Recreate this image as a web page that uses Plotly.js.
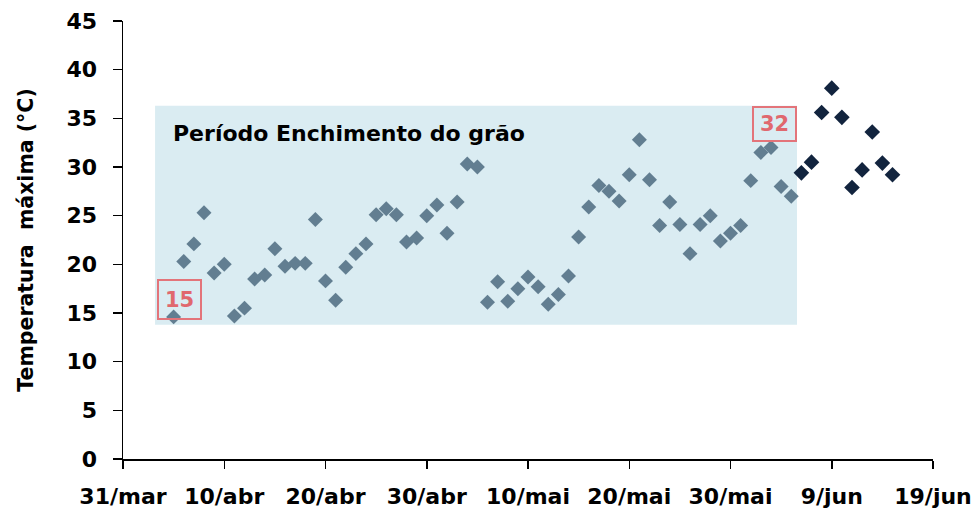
<!DOCTYPE html>
<html>
<head>
<meta charset="utf-8">
<script src="https://cdn.plot.ly/plotly-3.0.1.min.js"></script>
<style>html,body{margin:0;padding:0;background:#fff;}#chart{width:978px;height:513px;}</style>
</head>
<body>
<div id="chart"></div>
<script>
// Grain filling period (light markers)
const fillDates = [
  "2019-04-05","2019-04-06","2019-04-07","2019-04-08","2019-04-09","2019-04-10","2019-04-11","2019-04-12","2019-04-13","2019-04-14",
  "2019-04-15","2019-04-16","2019-04-17","2019-04-18","2019-04-19","2019-04-20","2019-04-21","2019-04-22","2019-04-23","2019-04-24",
  "2019-04-25","2019-04-26","2019-04-27","2019-04-28","2019-04-29","2019-04-30","2019-05-01","2019-05-02","2019-05-03","2019-05-04",
  "2019-05-05","2019-05-06","2019-05-07","2019-05-08","2019-05-09","2019-05-10","2019-05-11","2019-05-12","2019-05-13","2019-05-14",
  "2019-05-15","2019-05-16","2019-05-17","2019-05-18","2019-05-19","2019-05-20","2019-05-21","2019-05-22","2019-05-23","2019-05-24",
  "2019-05-25","2019-05-26","2019-05-27","2019-05-28","2019-05-29","2019-05-30","2019-05-31","2019-06-01","2019-06-02","2019-06-03",
  "2019-06-04","2019-06-05"
];
const fillTemps = [
  14.6,20.3,22.1,25.3,19.1,20.0,14.7,15.5,18.5,18.9,
  21.6,19.8,20.1,20.1,24.6,18.3,16.3,19.7,21.1,22.1,
  25.1,25.7,25.1,22.3,22.7,25.0,26.1,23.2,26.4,30.3,
  30.0,16.1,18.2,16.2,17.5,18.7,17.7,15.9,16.9,18.8,
  22.8,25.9,28.1,27.5,26.5,29.2,32.8,28.7,24.0,26.4,
  24.1,21.1,24.1,25.0,22.4,23.2,24.0,28.6,31.5,32.0,
  28.0,27.0
];
// After the period (dark markers)
const laterDates = ["2019-06-06","2019-06-07","2019-06-08","2019-06-09","2019-06-10","2019-06-11","2019-06-12","2019-06-13","2019-06-14","2019-06-15"];
const laterTemps = [29.4,30.5,35.6,38.1,35.1,27.9,29.7,33.6,30.4,29.2];

// Axis ticks
const xTickVals = ["2019-03-31","2019-04-10","2019-04-20","2019-04-30","2019-05-10","2019-05-20","2019-05-30","2019-06-09","2019-06-19"];
const xTickText = ["31/mar","10/abr","20/abr","30/abr","10/mai","20/mai","30/mai","9/jun","19/jun"];

// Period box and highlighted values
const periodStart = "2019-04-03 04:00";
const periodEnd = "2019-06-05 13:40";
const periodLow = 13.8;
const periodHigh = 36.3;
const periodLabel = "Período Enchimento do grão";
const minLabel = {x: "2019-04-05 12:45", y: 16.4, text: "15"};
const maxLabel = {x: "2019-06-03 08:30", y: 34.4, text: "32"};

const font = "DejaVu Sans, sans-serif";
const red = "#E3747A";

const traces = [
  {x: fillDates, y: fillTemps, type: "scatter", mode: "markers",
   marker: {symbol: "diamond", size: 11.5, color: "#627E91"}, hoverinfo: "x+y"},
  {x: laterDates, y: laterTemps, type: "scatter", mode: "markers",
   marker: {symbol: "diamond", size: 12, color: "#12243E"}, hoverinfo: "x+y"}
];

const layout = {
  width: 978, height: 513,
  margin: {l: 123, r: 45, t: 21, b: 54},
  paper_bgcolor: "#fff", plot_bgcolor: "rgba(0,0,0,0)",
  showlegend: false,
  font: {family: font, color: "#000"},
  xaxis: {
    type: "date", range: ["2019-03-31", "2019-06-19"],
    tickmode: "array", tickvals: xTickVals, ticktext: xTickText,
    showgrid: false, zeroline: false, showline: true, linecolor: "#000", linewidth: 1.5,
    ticks: "outside", ticklen: 8, tickwidth: 1.5, tickcolor: "#000",
    tickfont: {family: font, size: 22, color: "#000", weight: "bold"},
    ticklabelstandoff: 9
  },
  yaxis: {
    range: [0, 45], dtick: 5, tick0: 0,
    showgrid: false, zeroline: false, showline: true, linecolor: "#000", linewidth: 1.5,
    ticks: "outside", ticklen: 9, tickwidth: 1.5, tickcolor: "#000",
    tickfont: {family: font, size: 22, color: "#000", weight: "bold"},
    ticklabelstandoff: 11,
    title: {text: "Temperatura  máxima (°C)", font: {family: font, size: 20.5, color: "#000", weight: "bold"}, standoff: 27}
  },
  shapes: [
    {type: "rect", xref: "x", yref: "y", x0: periodStart, x1: periodEnd, y0: periodLow, y1: periodHigh,
     fillcolor: "#DAECF2", line: {width: 0}, layer: "below"}
  ],
  annotations: [
    {xref: "paper", yref: "paper", x: 0.0595, y: 0.744, xanchor: "left", yanchor: "middle",
     text: periodLabel, showarrow: false, font: {family: font, size: 22, color: "#000", weight: "bold"}},
    {xref: "x", yref: "y", x: minLabel.x, y: minLabel.y, text: minLabel.text, showarrow: false,
     width: 41, height: 37, borderpad: 0, borderwidth: 2, bordercolor: red, bgcolor: "rgba(0,0,0,0)",
     font: {family: font, size: 21, color: "#E0686E", weight: "bold"}},
    {xref: "x", yref: "y", x: maxLabel.x, y: maxLabel.y, text: maxLabel.text, showarrow: false,
     width: 41, height: 32, borderpad: 0, borderwidth: 2, bordercolor: red, bgcolor: "rgba(0,0,0,0)",
     font: {family: font, size: 21, color: "#E0686E", weight: "bold"}}
  ]
};

Plotly.newPlot("chart", traces, layout, {displayModeBar: false, staticPlot: true});
</script>
</body>
</html>
